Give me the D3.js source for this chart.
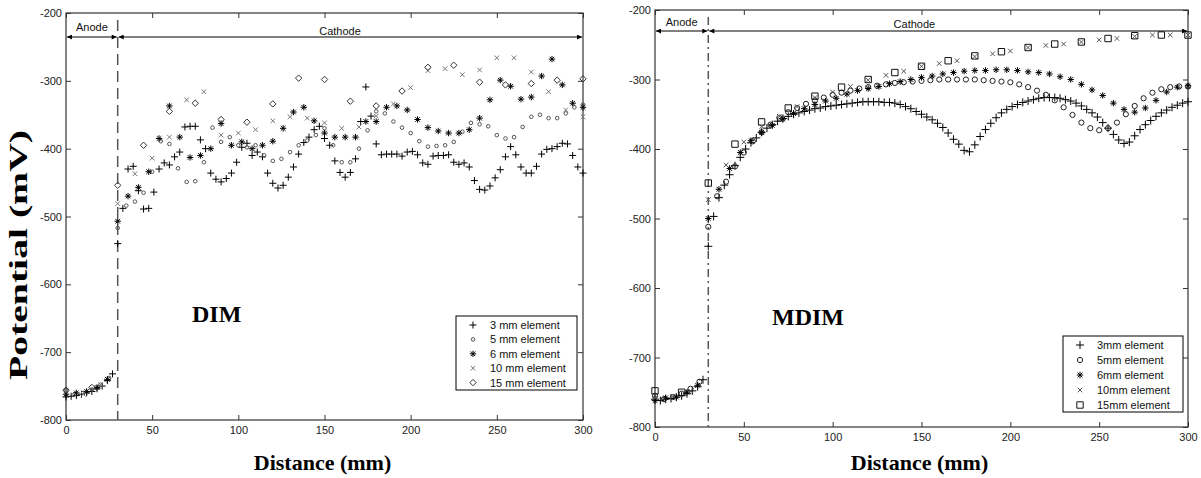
<!DOCTYPE html>
<html>
<head>
<meta charset="utf-8">
<script src="https://cdn.jsdelivr.net/npm/d3@7"></script>
<style>
body { margin: 0; background: #fff; }
svg { display: block; }
.axis path { display: none; }
.axis line { stroke: #333; }
.axis text { font-family: "Liberation Sans", Arial, sans-serif; font-size: 11px; fill: #222; }
.frame { fill: none; stroke: #333; stroke-width: 1.2; }
.title { font-family: "Liberation Serif", "Times New Roman", serif; font-weight: bold; fill: #000; }
.small { font-family: "Liberation Sans", Arial, sans-serif; font-size: 11px; fill: #111; }
</style>
</head>
<body>
<svg width="1201" height="478"></svg>
<script>
// ticks
var xTicks = [0, 50, 100, 150, 200, 250, 300];
var yTicks = [-800, -700, -600, -500, -400, -300, -200];

// measuring positions (mm), one grid per element size
var dist3 = d3.range(0, 301, 3),
    dist5 = d3.range(0, 301, 5),
    dist6 = d3.range(0, 301, 6),
    dist10 = d3.range(0, 301, 10),
    dist15 = d3.range(0, 301, 15);

// DIM potentials (mV)
var dim3 = [-766,-765,-764,-762,-760,-758,-754,-750,-742,-732,
  -540,-488,-430,-426,-462,-489,-488,-464,-430,-421,
  -424,-412,-405,-368,-367,-367,-387,-400,-436,-445,
  -449,-444,-436,-420,-398,-392,-410,-405,-412,-436,
  -451,-458,-454,-442,-427,-408,-391,-383,-372,-367,
  -385,-395,-418,-435,-442,-435,-415,-360,-309,-352,
  -393,-409,-408,-408,-408,-411,-405,-404,-409,-421,
  -423,-411,-410,-410,-409,-420,-423,-421,-427,-447,
  -460,-461,-455,-443,-431,-412,-397,-409,-427,-436,
  -436,-426,-408,-401,-400,-397,-392,-393,-410,-427,
  -436];
var dim5 = [-756,-762,-760,-755,-748,-738,-517,-484,-478,-465,
  -434,-389,-393,-429,-449,-448,-420,-369,-390,-383,
  -395,-398,-395,-410,-418,-415,-405,-395,-388,-380,
  -370,-395,-420,-420,-400,-373,-345,-348,-360,-369,
  -377,-389,-397,-396,-395,-390,-375,-362,-364,-367,
  -380,-385,-383,-368,-353,-350,-355,-355,-348,-339,
  -335];
var dim6 = [-762,-760,-758,-752,-740,-507,-470,-457,-434,-385,
  -337,-383,-413,-410,-400,-363,-395,-390,-400,-395,
  -389,-370,-346,-339,-359,-377,-383,-383,-383,-360,
  -360,-339,-337,-343,-357,-369,-374,-377,-377,-372,
  -355,-328,-299,-308,-327,-324,-293,-268,-306,-333,
  -339];
var dim10 = [-758,-762,-748,-481,-437,-414,-383,-328,-316,-380,
  -377,-372,-359,-353,-355,-362,-370,-368,-352,-334,
  -310,-285,-282,-291,-284,-266,-266,-287,-316,-343,
  -353];
var dim15 = [-756,-752,-454,-395,-345,-333,-357,-361,-334,-296,
  -298,-330,-337,-315,-280,-277,-302,-306,-304,-299,
  -297];

// MDIM potentials (mV)
var mdim3 = [-760,-762,-760,-759,-757,-755,-752,-748,-742,-732,
  -540,-497,-470,-452,-437,-424,-412,-400,-391,-384,
  -376,-370,-365,-360,-356,-353,-350,-348,-346,-344,
  -342,-341,-339,-338,-337,-336,-335,-334,-333,-332,
  -332,-332,-332,-333,-333,-334,-336,-339,-342,-346,
  -350,-354,-358,-363,-369,-377,-386,-393,-402,-404,
  -394,-382,-372,-363,-355,-348,-343,-339,-336,-333,
  -331,-329,-327,-326,-326,-326,-327,-329,-331,-334,
  -338,-343,-348,-354,-362,-370,-379,-387,-392,-390,
  -381,-372,-365,-359,-353,-348,-344,-340,-337,-334,
  -332];
var mdim5 = [-755,-760,-757,-752,-745,-735,-512,-468,-447,-425,
  -405,-389,-376,-365,-355,-347,-341,-335,-330,-326,
  -322,-319,-316,-313,-311,-309,-307,-305,-304,-303,
  -302,-301,-300,-300,-300,-300,-300,-301,-302,-303,
  -304,-307,-311,-316,-322,-330,-340,-351,-362,-370,
  -373,-370,-362,-350,-338,-327,-319,-314,-311,-310,
  -310];
var mdim6 = [-762,-758,-757,-750,-740,-500,-458,-428,-405,-388,
  -376,-366,-357,-349,-342,-336,-331,-327,-321,-316,
  -313,-310,-306,-303,-300,-297,-295,-292,-290,-288,
  -287,-287,-286,-286,-287,-289,-290,-292,-296,-300,
  -307,-315,-323,-334,-343,-347,-341,-330,-318,-311,
  -309];
var mdim10 = [-758,-756,-748,-473,-423,-390,-368,-353,-339,-326,
  -318,-310,-301,-294,-288,-281,-277,-273,-267,-263,
  -259,-254,-251,-249,-246,-243,-241,-238,-236,-236,
  -236];
var mdim15 = [-748,-750,-449,-393,-361,-341,-324,-311,-300,-290,
  -281,-273,-266,-260,-254,-249,-246,-241,-237,-236,
  -236];

var dimLabels = ["3 mm element", "5 mm element", "6 mm element", "10 mm element", "15 mm element"];
var mdimLabels = ["3mm element", "5mm element", "6mm element", "10mm element", "15mm element"];

var svg = d3.select("svg");

function ring(r) {
  return "M" + r + ",0A" + r + "," + r + " 0 1,1 " + (-r) + ",0A" + r + "," + r + " 0 1,1 " + r + ",0Z";
}

var symbols = {
  plus: "M-3.5,0H3.5M0,-3.5V3.5",
  plusBig: "M-4,0H4M0,-4V4",
  cross: "M-2.3,-2.3L2.3,2.3M-2.3,2.3L2.3,-2.3",
  star: "M-3.2,0H3.2M0,-3.2V3.2M-2.3,-2.3L2.3,2.3M-2.3,2.3L2.3,-2.3",
  ringS: ring(1.8),
  ringL: ring(2.6),
  diamond: "M0,-3.2L3.2,0L0,3.2L-3.2,0Z",
  square: "M-3.2,-3.2H3.2V3.2H-3.2Z"
};

var panels = [
  {
    left: 66, right: 583, top: 13, bottom: 420,
    label: "DIM", labelAt: [192, 322],
    dash: "11,6", arrowY: 37, anodeY: 31, cathodeY: 35, cathodeAt: 159,
    legend: {x: 456, y: 316, w: 121, h: 74, row: 14.4, labels: dimLabels},
    series: [
      {d: dist3, v: dim3, sym: "plus", color: "#000", sw: 1},
      {d: dist5, v: dim5, sym: "ringS", color: "#555", sw: 1},
      {d: dist6, v: dim6, sym: "star", color: "#000", sw: 1},
      {d: dist10, v: dim10, sym: "cross", color: "#777", sw: 1},
      {d: dist15, v: dim15, sym: "diamond", color: "#333", sw: 1}
    ]
  },
  {
    left: 655, right: 1188, top: 10, bottom: 427,
    label: "MDIM", labelAt: [772, 325],
    dash: "8,4,2,4", arrowY: 31, anodeY: 26, cathodeY: 28, cathodeAt: 146,
    legend: {x: 1063, y: 336, w: 120, h: 76, row: 15, labels: mdimLabels},
    series: [
      {d: dist3, v: mdim3, sym: "plusBig", color: "#000", sw: 1},
      {d: dist5, v: mdim5, sym: "ringL", color: "#222", sw: 1},
      {d: dist6, v: mdim6, sym: "star", color: "#000", sw: 1},
      {d: dist10, v: mdim10, sym: "cross", color: "#555", sw: 1},
      {d: dist15, v: mdim15, sym: "square", color: "#111", sw: 1}
    ]
  }
];

svg.append("defs").append("marker")
    .attr("id", "head")
    .attr("viewBox", "0 0 10 10")
    .attr("refX", 10).attr("refY", 5)
    .attr("markerWidth", 7).attr("markerHeight", 5)
    .attr("orient", "auto-start-reverse")
    .attr("markerUnits", "userSpaceOnUse")
  .append("path")
    .attr("d", "M0,0L10,5L0,10Z")
    .attr("fill", "#000");

panels.forEach(function(p) {
  var x = d3.scaleLinear().domain([0, 300]).range([p.left, p.right]);
  var y = d3.scaleLinear().domain([-800, -200]).range([p.bottom, p.top]);
  var g = svg.append("g");
  var fmt = function(d) { return String(d); };

  g.append("g").attr("class", "axis")
      .attr("transform", "translate(0," + p.bottom + ")")
      .call(d3.axisBottom(x).tickValues(xTicks).tickFormat(fmt).tickSizeInner(-5).tickSizeOuter(0).tickPadding(6));
  g.append("g").attr("class", "axis")
      .attr("transform", "translate(0," + p.top + ")")
      .call(d3.axisTop(x).tickValues(xTicks).tickFormat("").tickSizeInner(-5).tickSizeOuter(0));
  g.append("g").attr("class", "axis")
      .attr("transform", "translate(" + p.left + ",0)")
      .call(d3.axisLeft(y).tickValues(yTicks).tickFormat(fmt).tickSizeInner(-5).tickSizeOuter(0).tickPadding(4));
  g.append("g").attr("class", "axis")
      .attr("transform", "translate(" + p.right + ",0)")
      .call(d3.axisRight(y).tickValues(yTicks).tickFormat("").tickSizeInner(-5).tickSizeOuter(0));

  g.append("rect").attr("class", "frame")
      .attr("x", p.left).attr("y", p.top)
      .attr("width", p.right - p.left).attr("height", p.bottom - p.top);

  // anode / cathode boundary
  g.append("line")
      .attr("x1", x(30)).attr("x2", x(30))
      .attr("y1", p.top + 7).attr("y2", p.bottom)
      .attr("stroke", "#555").attr("stroke-width", 1.5)
      .attr("stroke-dasharray", p.dash);

  g.append("line")
      .attr("x1", x(0) + 1).attr("x2", x(30) - 1)
      .attr("y1", p.arrowY).attr("y2", p.arrowY)
      .attr("stroke", "#000").attr("stroke-width", 1.2)
      .attr("marker-start", "url(#head)").attr("marker-end", "url(#head)");
  g.append("line")
      .attr("x1", x(30) + 1).attr("x2", x(300) - 1)
      .attr("y1", p.arrowY).attr("y2", p.arrowY)
      .attr("stroke", "#000").attr("stroke-width", 1.2)
      .attr("marker-start", "url(#head)").attr("marker-end", "url(#head)");
  g.append("text").attr("class", "small")
      .attr("x", x(15)).attr("y", p.anodeY)
      .attr("text-anchor", "middle").text("Anode");
  g.append("text").attr("class", "small")
      .attr("x", x(p.cathodeAt)).attr("y", p.cathodeY)
      .attr("text-anchor", "middle").text("Cathode");

  // data points
  p.series.forEach(function(s) {
    g.append("g").selectAll("path")
        .data(s.v)
      .enter().append("path")
        .attr("transform", function(v, i) { return "translate(" + x(s.d[i]) + "," + y(v) + ")"; })
        .attr("d", symbols[s.sym])
        .attr("fill", "none")
        .attr("stroke", s.color)
        .attr("stroke-width", s.sw);
  });

  g.append("text").attr("class", "title")
      .attr("x", p.labelAt[0]).attr("y", p.labelAt[1])
      .style("font-size", "24px").text(p.label);

  // legend
  var L = p.legend;
  var lg = g.append("g").attr("transform", "translate(" + L.x + "," + L.y + ")");
  lg.append("rect").attr("width", L.w).attr("height", L.h)
      .attr("fill", "#fff").attr("stroke", "#000").attr("stroke-width", 1);
  var row = lg.selectAll(".row").data(p.series)
    .enter().append("g")
      .attr("transform", function(s, i) { return "translate(0," + (9 + i * L.row) + ")"; });
  row.append("path")
      .attr("transform", "translate(17,0)")
      .attr("d", function(s) { return symbols[s.sym]; })
      .attr("fill", "none")
      .attr("stroke", function(s) { return s.color; })
      .attr("stroke-width", function(s) { return s.sw; });
  row.append("text").attr("class", "small")
      .attr("x", 34).attr("y", 4)
      .text(function(s, i) { return L.labels[i]; });

  g.append("text").attr("class", "title")
      .attr("x", (p.left + p.right) / 2 - 2).attr("y", 470)
      .attr("text-anchor", "middle")
      .style("font-size", "22px").text("Distance (mm)");
});

svg.append("text").attr("class", "title")
    .attr("transform", "translate(27,255) rotate(-90)")
    .attr("text-anchor", "middle")
    .attr("textLength", 250)
    .attr("lengthAdjust", "spacingAndGlyphs")
    .style("font-size", "26px")
    .text("Potential (mV)");
</script>
</body>
</html>
